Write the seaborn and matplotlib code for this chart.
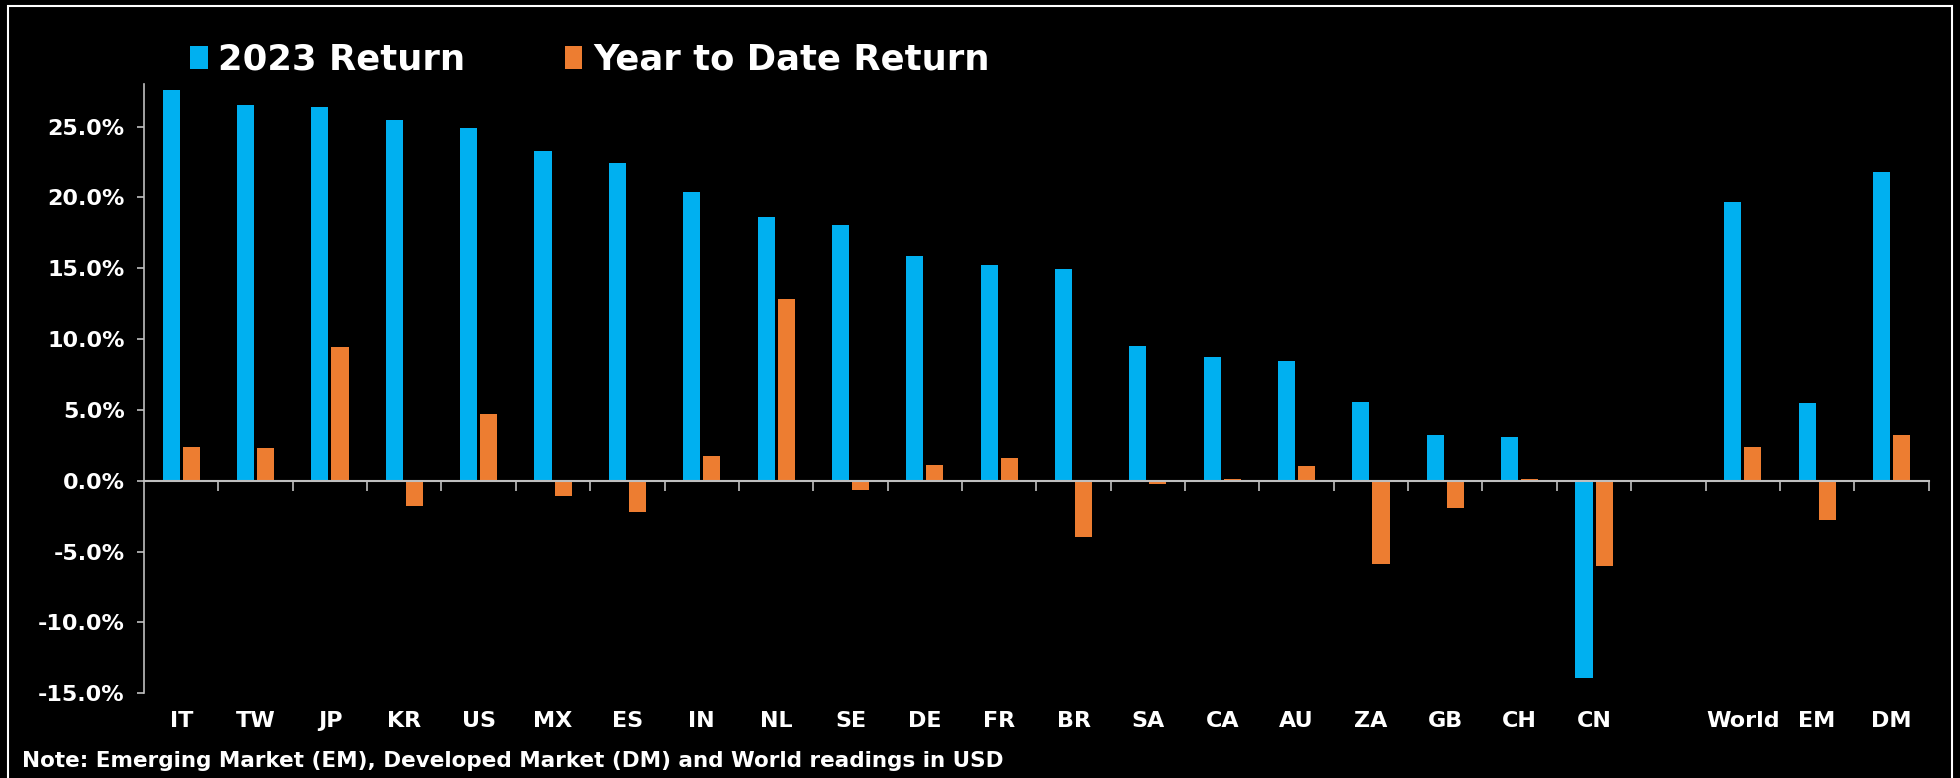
import numpy as np
import pandas as pd
import matplotlib
matplotlib.use("Agg")
import matplotlib.pyplot as plt
import seaborn as sns
from matplotlib.patches import Rectangle
from matplotlib.ticker import FuncFormatter

# data (percent)
countries = ["IT", "TW", "JP", "KR", "US", "MX", "ES", "IN", "NL", "SE", "DE", "FR",
             "BR", "SA", "CA", "AU", "ZA", "GB", "CH", "CN", " ", "World", "EM", "DM"]
ret_2023 = [27.6, 26.5, 26.35, 25.45, 24.9, 23.3, 22.4, 20.4, 18.6, 18.05, 15.85, 15.25,
            14.95, 9.5, 8.7, 8.45, 5.55, 3.2, 3.05, -13.9, np.nan, 19.65, 5.5, 21.8]
ret_ytd = [2.4, 2.3, 9.45, -1.8, 4.7, -1.05, -2.2, 1.75, 12.8, -0.65, 1.13, 1.62,
           -4.0, -0.25, 0.13, 1.03, -5.9, -1.93, 0.1, -6.0, np.nan, 2.4, -2.8, 3.2]
series = ["2023 Return", "Year to Date Return"]
colors = ["#00B0F0", "#ED7D31"]
yticks = [-15, -10, -5, 0, 5, 10, 15, 20, 25]

df = pd.DataFrame({
    "country": countries * 2,
    "value": ret_2023 + ret_ytd,
    "series": [series[0]] * len(countries) + [series[1]] * len(countries),
}).dropna()

sns.set_style("ticks")
plt.rcParams["font.family"] = ["DejaVu Sans"]
plt.rcParams["font.weight"] = "bold"

grey = "#BFBFBF"
fig = plt.figure(figsize=(19.6, 7.78), dpi=100, facecolor="black")
ax = fig.add_axes([0.0735, 0.109, 0.9105, 0.783])
ax.set_facecolor("black")

sns.barplot(data=df, x="country", y="value", hue="series", order=countries,
            hue_order=series, palette=dict(zip(series, colors)), saturation=1,
            width=0.54, gap=0.15, errorbar=None, linewidth=0, ax=ax)

ax.set_xlim(-0.5, len(countries) - 0.5)
ax.set_ylim(-15, 28)
ax.set_xlabel("")
ax.set_ylabel("")

for s in ["top", "right"]:
    ax.spines[s].set_visible(False)
ax.spines["left"].set_color(grey)
ax.spines["left"].set_linewidth(1.2)
ax.spines["bottom"].set_position(("data", 0))
ax.spines["bottom"].set_color(grey)
ax.spines["bottom"].set_linewidth(1.5)

# tick marks between categories on the zero line, labels at the bottom
ax.set_xticks(range(len(countries)))
ax.set_xticks(np.arange(0.5, len(countries), 1), minor=True)
ax.tick_params(axis="x", which="major", length=0, labelbottom=False)
ax.tick_params(axis="x", which="minor", length=7, width=1.2, color=grey, direction="out")

sec = ax.secondary_xaxis("bottom")
sec.set_xticks(range(len(countries)), labels=countries)
sec.tick_params(length=0, pad=13, labelsize=16, labelcolor="white")
sec.spines["bottom"].set_visible(False)
for lab in sec.get_xticklabels():
    lab.set_fontweight("bold")

ax.set_yticks(yticks)
ax.yaxis.set_major_formatter(FuncFormatter(lambda v, p: f"{v:.1f}%"))
ax.tick_params(axis="y", length=5, width=1.2, color=grey, pad=9,
               labelsize=16, labelcolor="white")

sns.move_legend(ax, "center left", bbox_to_anchor=(0.097, 0.923),
                bbox_transform=fig.transFigure, ncol=2, frameon=False, title=None,
                prop={"weight": "bold", "size": 25.5}, labelcolor="white",
                handlelength=0.5, handleheight=0.65, handletextpad=0.3,
                columnspacing=2.8, borderpad=0, borderaxespad=0)

fig.text(0.011, 0.022, "Note: Emerging Market (EM), Developed Market (DM) and World readings in USD",
         color="white", fontsize=15.5, fontweight="bold", va="center", ha="left")

fig.add_artist(Rectangle((8 / 1960, -0.02), 1944 / 1960, 1.02 - 6 / 778,
                         transform=fig.transFigure, fill=False,
                         edgecolor="white", linewidth=1.5))

fig.savefig("out.png", dpi=100, facecolor="black")
